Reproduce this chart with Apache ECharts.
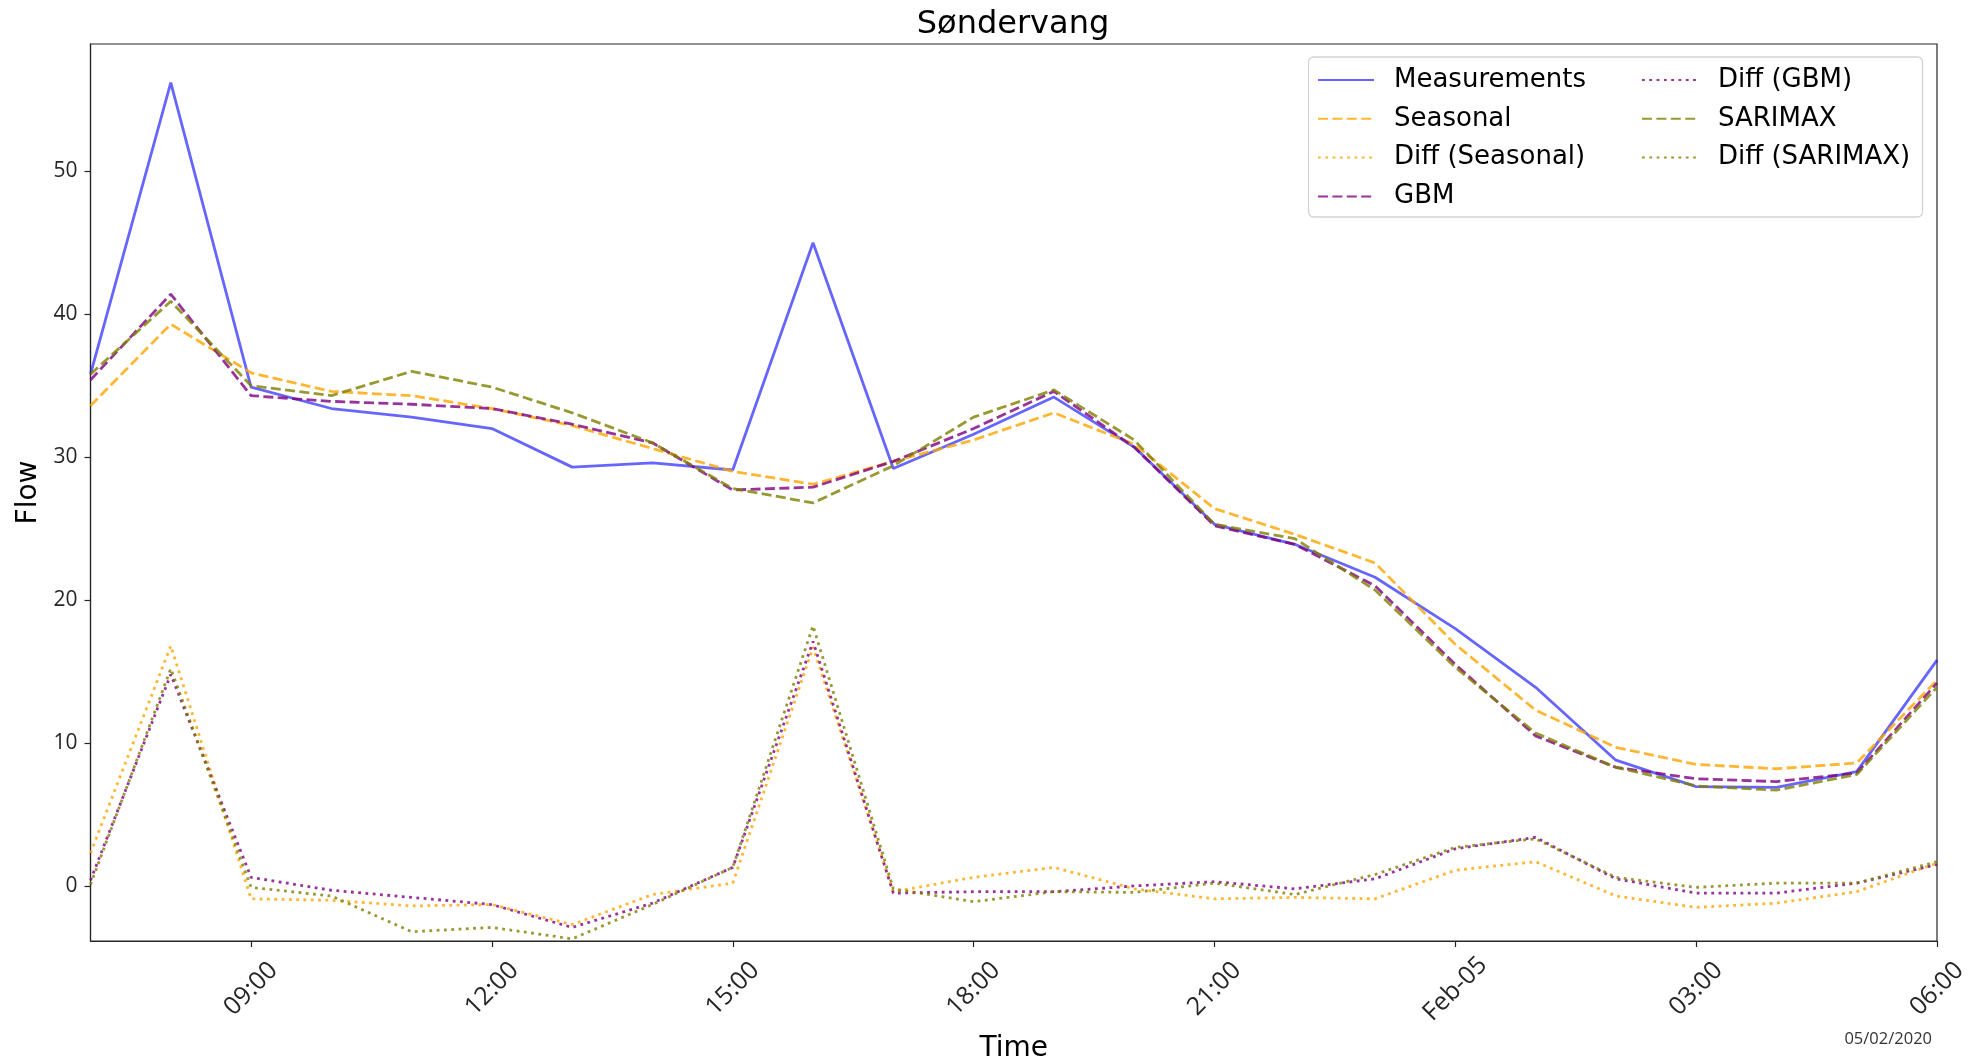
<!DOCTYPE html>
<html>
<head>
<meta charset="utf-8">
<title>Søndervang</title>
<script src="https://cdn.jsdelivr.net/npm/echarts@6/dist/echarts.min.js"></script>
<style>
  html, body { margin: 0; padding: 0; background: #fff; }
  #chart { width: 1972px; height: 1061px; }
</style>
</head>
<body>
<div id="chart"></div>
<script>
// Hourly timestamps, 4 Feb 07:00 to 5 Feb 06:00
const times = [
  '2020-02-04 07:00', '2020-02-04 08:00', '2020-02-04 09:00', '2020-02-04 10:00',
  '2020-02-04 11:00', '2020-02-04 12:00', '2020-02-04 13:00', '2020-02-04 14:00',
  '2020-02-04 15:00', '2020-02-04 16:00', '2020-02-04 17:00', '2020-02-04 18:00',
  '2020-02-04 19:00', '2020-02-04 20:00', '2020-02-04 21:00', '2020-02-04 22:00',
  '2020-02-04 23:00', '2020-02-05 00:00', '2020-02-05 01:00', '2020-02-05 02:00',
  '2020-02-05 03:00', '2020-02-05 04:00', '2020-02-05 05:00', '2020-02-05 06:00'
];

const measurements = [35.8, 56.2, 34.9, 33.4, 32.8, 32.0, 29.3, 29.6, 29.1, 45.0, 29.2, 31.6,
                      34.2, 30.7, 25.3, 23.9, 21.6, 18.0, 13.9, 8.8, 6.95, 6.9, 8.0, 15.8];
const seasonal = [33.6, 39.3, 35.9, 34.6, 34.3, 33.4, 32.2, 30.6, 29.0, 28.1, 29.7, 31.2,
                  33.1, 30.9, 26.4, 24.6, 22.6, 16.9, 12.3, 9.7, 8.5, 8.2, 8.6, 14.4];
const diffSeasonal = [2.3, 16.8, -0.9, -1.0, -1.4, -1.3, -2.7, -0.6, 0.2, 16.7, -0.4, 0.6,
                      1.3, -0.2, -0.9, -0.8, -0.9, 1.1, 1.7, -0.7, -1.5, -1.2, -0.4, 1.6];
const gbm = [35.4, 41.4, 34.3, 33.9, 33.7, 33.4, 32.3, 31.0, 27.7, 27.9, 29.7, 32.0,
             34.6, 30.7, 25.2, 23.9, 21.0, 15.5, 10.5, 8.3, 7.5, 7.3, 7.9, 14.2];
const diffGbm = [0.4, 14.8, 0.6, -0.3, -0.8, -1.3, -2.9, -1.2, 1.3, 17.1, -0.5, -0.4,
                 -0.4, 0.0, 0.3, -0.2, 0.5, 2.6, 3.4, 0.5, -0.5, -0.5, 0.2, 1.5];
const sarimax = [35.8, 40.9, 35.0, 34.3, 36.0, 34.9, 33.1, 31.0, 27.8, 26.8, 29.4, 32.8,
                 34.7, 31.2, 25.3, 24.3, 20.7, 15.3, 10.7, 8.3, 7.0, 6.7, 7.8, 13.9];
const diffSarimax = [0.1, 15.2, -0.1, -0.7, -3.2, -2.9, -3.7, -1.3, 1.3, 18.2, -0.2, -1.1,
                     -0.4, -0.45, 0.2, -0.6, 0.8, 2.7, 3.3, 0.6, -0.1, 0.2, 0.2, 1.7];

const yTicks = [0, 10, 20, 30, 40, 50];

// x labels: hour of day, with the date shown at midnight
function timeLabel(value) {
  const hm = value.slice(11);
  if (hm === '00:00') {
    const months = ['Jan', 'Feb', 'Mar', 'Apr', 'May', 'Jun', 'Jul', 'Aug', 'Sep', 'Oct', 'Nov', 'Dec'];
    return months[parseInt(value.slice(5, 7), 10) - 1] + '-' + value.slice(8, 10);
  }
  return hm;
}
const everyThirdHour = (idx) => idx % 3 === 2;

const LW = 2.8;
const DASH = [10, 4.4];
const DOT = [2.8, 4.5];
const BLUE = 'rgba(0,0,255,0.6)';
const ORANGE = 'rgba(255,165,0,0.8)';
const PURPLE = 'rgba(128,0,128,0.8)';
const OLIVE = 'rgba(128,128,0,0.8)';

function lineSeries(name, data, color, type) {
  return {
    name: name,
    type: 'line',
    data: data,
    symbol: 'none',
    showSymbol: false,
    smooth: false,
    animation: false,
    lineStyle: { color: color, width: LW, type: type, cap: 'butt' },
    itemStyle: { color: color },
    emphasis: { disabled: true }
  };
}

const legendText = {
  fontFamily: 'DejaVu Sans',
  fontSize: 26,
  color: '#000',
  lineHeight: 30,
  padding: [0, 0, 0, 15]
};
const legendCommon = {
  orient: 'vertical',
  top: 65,
  padding: 0,
  itemWidth: 56,
  itemHeight: 14,
  itemGap: 8.8,
  selectedMode: false,
  itemStyle: { opacity: 0 },
  textStyle: legendText,
  z: 5
};

const chart = echarts.init(document.getElementById('chart'), null, { renderer: 'canvas' });

chart.setOption({
  backgroundColor: '#fff',
  animation: false,
  grid: {
    left: 90.5, right: 35, top: 44, bottom: 120,
    show: true, borderColor: '#262626', borderWidth: 1.2,
    containLabel: false, outerBoundsMode: 'none'
  },
  legend: [
    Object.assign({ left: 1317, data: ['Measurements', 'Seasonal', 'Diff (Seasonal)', 'GBM'] }, legendCommon),
    Object.assign({ left: 1641, data: ['Diff (GBM)', 'SARIMAX', 'Diff (SARIMAX)'] }, legendCommon)
  ],
  xAxis: {
    type: 'category',
    data: times,
    boundaryGap: false,
    name: 'Time',
    nameLocation: 'middle',
    nameGap: 94,
    nameTextStyle: { fontFamily: 'DejaVu Sans', fontSize: 28, color: '#000' },
    axisLine: { show: true, onZero: false, lineStyle: { color: '#262626', width: 1.2 } },
    axisTick: { show: true, interval: everyThirdHour, length: 6, lineStyle: { color: '#262626', width: 1.2 } },
    axisLabel: {
      interval: everyThirdHour,
      formatter: timeLabel,
      rotate: 45,
      align: 'center',
      verticalAlign: 'middle',
      margin: 48,
      fontFamily: 'Open Sans',
      fontSize: 25,
      color: '#262626',
      hideOverlap: false
    },
    splitLine: { show: false }
  },
  yAxis: {
    type: 'value',
    min: -3.85,
    max: 58.9,
    name: 'Flow',
    nameLocation: 'middle',
    nameRotate: 90,
    nameGap: 37,
    nameTextStyle: { fontFamily: 'DejaVu Sans', fontSize: 28, color: '#000' },
    axisLine: { show: true, lineStyle: { color: '#262626', width: 1.2 } },
    axisTick: { show: true, customValues: yTicks, length: 6, lineStyle: { color: '#262626', width: 1.2 } },
    axisLabel: {
      customValues: yTicks,
      margin: 13,
      fontFamily: 'Open Sans',
      fontSize: 21,
      color: '#262626'
    },
    splitLine: { show: false }
  },
  graphic: [
    {
      type: 'rect',
      z: 3,
      shape: { x: 1308.5, y: 57, width: 614, height: 160, r: 5 },
      style: { fill: 'rgba(255,255,255,0.8)', stroke: '#d4d4d4', lineWidth: 1.3 }
    },
    {
      type: 'text',
      z: 10,
      x: 1013, y: 25,
      style: {
        text: 'Søndervang',
        fontFamily: 'DejaVu Sans', fontSize: 32, fill: '#000',
        align: 'center', verticalAlign: 'middle'
      }
    },
    {
      type: 'text',
      z: 10,
      x: 1932, y: 1039,
      style: {
        text: '05/02/2020',
        fontFamily: 'Open Sans', fontSize: 16.5, fill: '#333',
        align: 'right', verticalAlign: 'middle'
      }
    }
  ],
  series: [
    lineSeries('Measurements', measurements, BLUE, 'solid'),
    lineSeries('Seasonal', seasonal, ORANGE, DASH),
    lineSeries('Diff (Seasonal)', diffSeasonal, ORANGE, DOT),
    lineSeries('GBM', gbm, PURPLE, DASH),
    lineSeries('Diff (GBM)', diffGbm, PURPLE, DOT),
    lineSeries('SARIMAX', sarimax, OLIVE, DASH),
    lineSeries('Diff (SARIMAX)', diffSarimax, OLIVE, DOT)
  ]
});
</script>
</body>
</html>
